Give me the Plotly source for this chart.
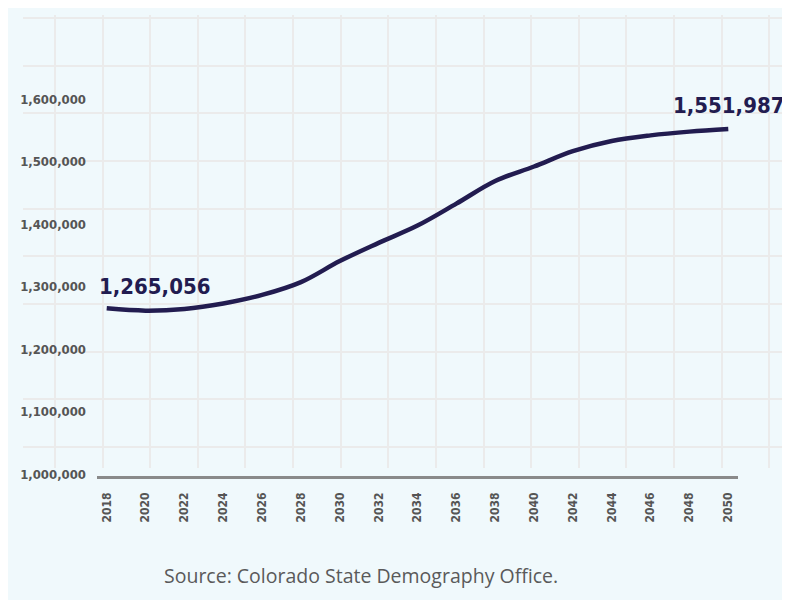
import plotly.graph_objects as go

# ---- data ----
years = [2018, 2020, 2022, 2024, 2026, 2028, 2030, 2032, 2034,
         2036, 2038, 2040, 2042, 2044, 2046, 2048, 2050]
population = [1265056, 1261400, 1264100, 1272900, 1286500, 1307000, 1340700,
              1369800, 1397500, 1432600, 1468800, 1492000, 1516500, 1532800,
              1541800, 1547800, 1551987]
y_ticks = [1000000, 1100000, 1200000, 1300000, 1400000, 1500000, 1600000]
y_tick_labels = ["1,000,000", "1,100,000", "1,200,000", "1,300,000",
                 "1,400,000", "1,500,000", "1,600,000"]
x_ticks = years
x_tick_labels = [str(y) for y in years]
source_text = "Source: Colorado State Demography Office."

NAVY = "#221C50"
GREY = "#555555"
PANEL = "#F0F9FC"
GRID = "#EBEBEB"
COND = "DejaVu Sans Condensed, DejaVu Sans, sans-serif"

W, H = 782, 592
L, R, T, B = 15, 7, 7, 124
PW, PH = W - L - R, H - T - B   # 760 x 461

fig = go.Figure()

# decorative background grid on its own hidden axes (drawn first, underneath)
fig.add_trace(go.Scatter(x=[None], y=[None], xaxis="x", yaxis="y",
                         showlegend=False, hoverinfo="skip"))

fig.add_trace(go.Scatter(
    x=years, y=population, mode="lines", xaxis="x2", yaxis="y2",
    line=dict(color=NAVY, width=4.5, shape="spline", smoothing=1),
    showlegend=False, hoverinfo="skip",
))

fig.add_annotation(x=years[0], y=population[0], xref="x2", yref="y2",
                   text=f"{population[0]:,}", showarrow=False,
                   xanchor="left", yanchor="middle", xshift=-10, yshift=22,
                   font=dict(family=COND, size=22, color=NAVY, weight="bold"))
fig.add_annotation(x=years[-1], y=population[-1], xref="x2", yref="y2",
                   text=f"{population[-1]:,}", showarrow=False,
                   xanchor="center", yanchor="middle", xshift=0, yshift=24,
                   font=dict(family=COND, size=22, color=NAVY, weight="bold"))
fig.add_annotation(x=(353 - L) / PW, y=(H - B - 567) / PH, xref="paper", yref="paper",
                   text=source_text, showarrow=False,
                   xanchor="center", yanchor="middle",
                   font=dict(family="Open Sans, Noto Sans, sans-serif", size=19.5,
                             color="#5a5a5a"))

# light-blue panel behind everything
fig.add_shape(type="rect", xref="paper", yref="paper",
              x0=(0 - L) / PW, x1=(777 - L) / PW,
              y0=(H - B - H) / PH, y1=(H - B) / PH,
              fillcolor=PANEL, line=dict(width=0), layer="below")

fig.update_layout(
    width=W, height=H,
    margin=dict(l=L, r=R, t=T, b=B, autoexpand=False),
    paper_bgcolor="white",
    plot_bgcolor="rgba(0,0,0,0)",
    xaxis=dict(domain=[0, 1], anchor="y", range=[-0.672, 15.29],
               tick0=0, dtick=1, showgrid=True, gridcolor=GRID, gridwidth=1.5,
               showticklabels=False, zeroline=False, showline=False, ticks=""),
    yaxis=dict(domain=[(476 - 468) / PH, 1], anchor="x", range=[-0.44, 9.063],
               tick0=0, dtick=1, showgrid=True, gridcolor=GRID, gridwidth=1.5,
               showticklabels=False, zeroline=False, showline=False, ticks=""),
    xaxis2=dict(domain=[(97 - 23) / PW, (738 - 23) / PW], anchor="y2",
                range=[2017.5, 2050.5], tickvals=x_ticks, ticktext=x_tick_labels,
                tickangle=-90, showgrid=False, zeroline=False,
                showline=True, linecolor="#8a8a8a", linewidth=2.5,
                ticks="", ticklabelstandoff=9,
                tickfont=dict(family=COND, size=12, color=GREY, weight="bold")),
    yaxis2=dict(domain=[0, (476 - 36) / PH], anchor="x2",
                range=[996800, 1700800], tickvals=y_ticks, ticktext=y_tick_labels,
                showgrid=False, zeroline=False, showline=False,
                ticks="", ticklabelstandoff=10,
                tickfont=dict(family=COND, size=13, color=GREY, weight="bold")),
)

fig.write_html("out.html")
